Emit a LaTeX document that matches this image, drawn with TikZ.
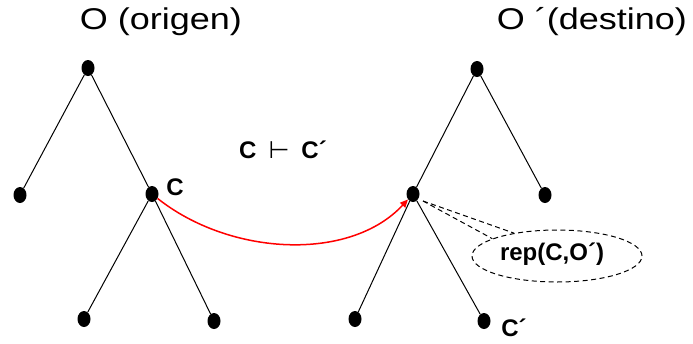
\documentclass[tikz,border=0pt]{standalone}
\usepackage{fontspec}
\setmainfont{Liberation Sans}
\newfontfamily\widefont[FakeStretch=1.2]{Liberation Sans}
\newfontfamily\symfont{DejaVu Sans}
\usetikzlibrary{shapes.geometric, arrows.meta}

\tikzset{
  dot/.style={ellipse, fill=black, inner sep=0pt, minimum width=13pt, minimum height=16pt},
  edge/.style={black, line width=1pt},
  title/.style={font=\widefont\fontsize{30}{32}\selectfont},
  lbl/.style={font=\fontsize{24}{26}\selectfont\bfseries},
  dashes/.style={dash pattern=on 5pt off 3.5pt, line width=1pt},
  bubble/.style={ellipse, draw, dashes, inner sep=0pt,
    minimum width=170pt, minimum height=52pt}
}

\begin{document}
\begin{tikzpicture}[x=1pt, y=-1pt]
  \useasboundingbox (0,0) rectangle (693,343);

  % origin tree
  \node[dot] (o) at (88,68) {};
  \node[dot] (ol) at (20,195) {};
  \node[dot] (c) at (152,194) {};
  \node[dot] (cl) at (84,319) {};
  \node[dot] (cr) at (214,321) {};
  \draw[edge] (o) -- (ol);
  \draw[edge] (o) -- (c);
  \draw[edge] (c) -- (cl);
  \draw[edge] (c) -- (cr);
  \node[title] (torig) at (161,22) {O (origen)};
  \node[lbl] (lc) at (175,187) {C};

  % destination tree
  \node[dot] (d) at (477,69) {};
  \node[dot] (cp) at (413,194) {};
  \node[dot] (dr) at (545,195) {};
  \node[dot] (cpl) at (355,319) {};
  \node[dot] (cpr) at (484,321) {};
  \draw[edge] (d) -- (cp);
  \draw[edge] (d) -- (dr);
  \draw[edge] (cp) -- (cpl);
  \draw[edge] (cp) -- (cpr);
  \node[title] (tdest) at (592,22) {O ´(destino)};
  \node[lbl] (lcp) at (514,328) {C´};

  % relation
  \node[lbl] (rel) at (283,150) {C\hspace{12pt}{\symfont\mdseries ⊢}\hspace{12pt}C´};
  \draw[red, line width=1.5pt, -{Triangle[length=8pt, width=7pt]}]
    (c) .. controls (230,256) and (350,262) .. (cp);

  % representative
  \node[bubble] (rep) at (557,256) {};
  \node[lbl] (reptxt) at (552,254) {rep(C,O´)};
  \coordinate (tip) at (423,201);
  \draw[dashes] (tip) -- (rep.152);
  \draw[dashes] (tip) -- (rep.165);
\end{tikzpicture}
\end{document}
